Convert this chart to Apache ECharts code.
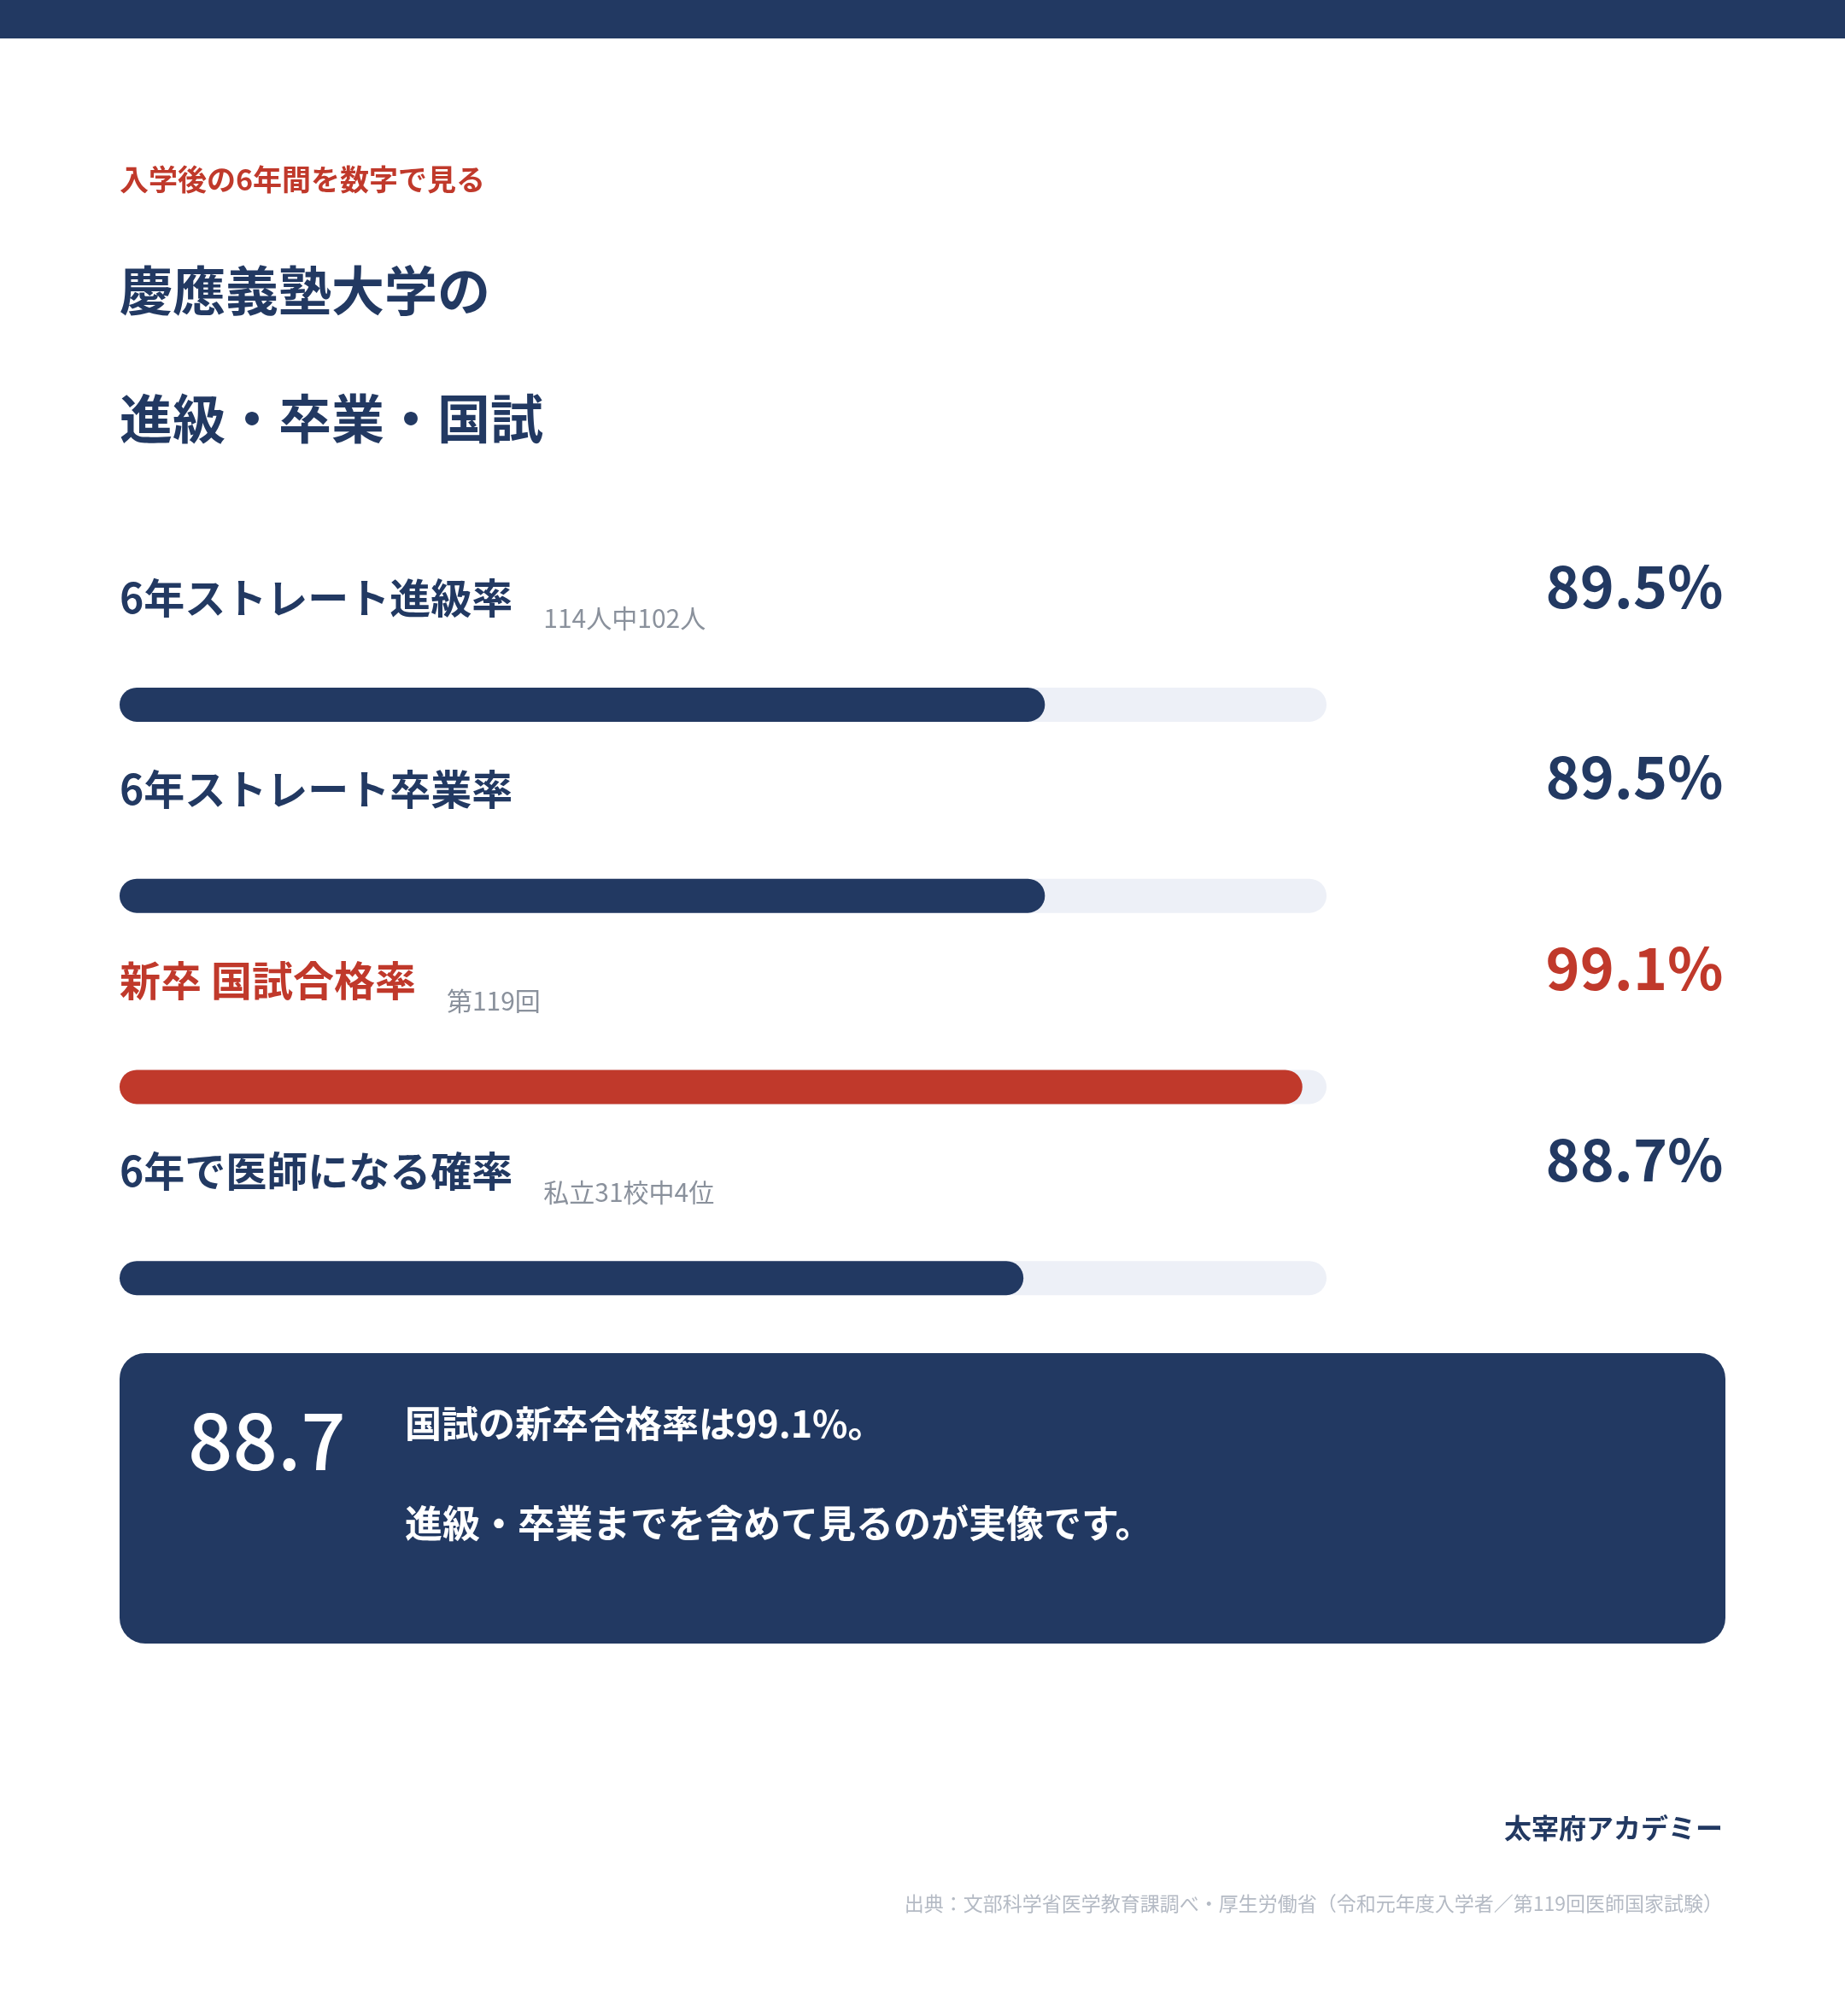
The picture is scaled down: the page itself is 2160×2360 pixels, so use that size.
<!DOCTYPE html>
<html>
<head>
<meta charset="utf-8">
<title>慶應義塾大学の進級・卒業・国試</title>
<script src="https://cdn.jsdelivr.net/npm/echarts@6.0.0/dist/echarts.min.js"></script>
<style>
  html, body { margin: 0; padding: 0; background: #ffffff; }
  #container1 { width: 2160px; height: 2360px; }
</style>
</head>
<body>
<div id="container1"></div>
<script>
// データ
var rowNames = ['6年ストレート進級率', '6年ストレート卒業率', '新卒 国試合格率', '6年で医師になる確率'];
var rowNotes = ['114人中102人', '', '第119回', '私立31校中4位'];
var rates = [89.5, 89.5, 99.1, 88.7];
var axisMin = 55;
var axisMax = 100;

var NAVY = '#223962';
var RED = '#c0392b';
var TRACK = '#edf0f7';
var FONT = '"Noto Sans CJK JP", "Noto Sans", sans-serif';
var accentIndex = 2; // 国試合格率だけ赤

var dom = document.getElementById("container1");
var myChart = echarts.init(dom);
var option = null;

function rowColor(i) {
    return i === accentIndex ? RED : NAVY;
}

option = {
    animation: false,
    backgroundColor: '#ffffff',
    textStyle: { fontFamily: FONT },
    grid: {
        left: 140,
        right: 607,
        top: 713,
        bottom: 752
    },
    xAxis: {
        type: 'value',
        min: axisMin,
        max: axisMax,
        show: false
    },
    yAxis: {
        type: 'category',
        data: rowNames,
        inverse: true,
        show: false
    },
    series: [
        {
            name: 'rate',
            type: 'bar',
            data: rates,
            barWidth: 40,
            showBackground: true,
            backgroundStyle: {
                color: TRACK,
                borderRadius: 20
            },
            itemStyle: {
                borderRadius: 20,
                color: function (p) {
                    return rowColor(p.dataIndex);
                }
            },
            label: {
                show: true,
                position: [0, -105],
                align: 'left',
                verticalAlign: 'middle',
                formatter: function (p) {
                    var i = p.dataIndex;
                    var key = i === accentIndex ? 'r' : 'n';
                    var s = '{' + key + '|' + rowNames[i] + '}';
                    if (rowNotes[i]) {
                        s += '{s|' + rowNotes[i] + '}';
                    }
                    return s;
                },
                rich: {
                    n: { fontFamily: FONT, fontSize: 48, fontWeight: 'bold', color: NAVY, lineHeight: 60 },
                    r: { fontFamily: FONT, fontSize: 48, fontWeight: 'bold', color: RED, lineHeight: 60 },
                    s: { fontFamily: FONT, fontSize: 30, color: '#8a919c', lineHeight: 36, padding: [48, 0, 0, 36] }
                }
            }
        },
        {
            // 右側のパーセント表示
            name: 'value',
            type: 'scatter',
            symbolSize: 1,
            itemStyle: { color: 'rgba(0,0,0,0)', opacity: 1 },
            data: rates.map(function (v, i) {
                return {
                    value: [axisMax, i],
                    label: { color: rowColor(i) }
                };
            }),
            label: {
                show: true,
                position: 'right',
                distance: 0,
                align: 'right',
                verticalAlign: 'middle',
                offset: [464, -139],
                fontFamily: FONT,
                fontSize: 68,
                fontWeight: 'bold',
                formatter: function (p) {
                    return rates[p.dataIndex].toFixed(1) + '%';
                }
            }
        }
    ],
    graphic: [
        {
            type: 'rect',
            shape: { x: 0, y: 0, width: 2160, height: 45 },
            style: { fill: NAVY }
        },
        {
            type: 'text', x: 140, y: 210,
            style: { text: '入学後の6年間を数字で見る', fill: RED, font: 'bold 34px ' + FONT, verticalAlign: 'middle' }
        },
        {
            type: 'text', x: 140, y: 340,
            style: { text: '慶應義塾大学の', fill: NAVY, font: 'bold 62px ' + FONT, verticalAlign: 'middle' }
        },
        {
            type: 'text', x: 140, y: 490,
            style: { text: '進級・卒業・国試', fill: NAVY, font: 'bold 62px ' + FONT, verticalAlign: 'middle' }
        },
        // 下のまとめボックス
        {
            type: 'rect',
            shape: { x: 140, y: 1584, width: 1880, height: 340, r: 30 },
            style: { fill: NAVY }
        },
        {
            type: 'text', x: 220, y: 1686,
            style: { text: rates[3].toFixed(1), fill: '#ffffff', font: '500 92px ' + FONT, verticalAlign: 'middle' }
        },
        {
            type: 'text', x: 474, y: 1667,
            style: { text: '国試の新卒合格率は' + rates[2].toFixed(1) + '%。', fill: '#ffffff', font: 'bold 43px ' + FONT, verticalAlign: 'middle' }
        },
        {
            type: 'text', x: 474, y: 1783,
            style: { text: '進級・卒業までを含めて見るのが実像です。', fill: '#ffffff', font: 'bold 44px ' + FONT, verticalAlign: 'middle' }
        },
        {
            type: 'text', x: 2017, y: 2140,
            style: { text: '太宰府アカデミー', fill: NAVY, font: 'bold 32px ' + FONT, align: 'right', verticalAlign: 'middle' }
        },
        {
            type: 'text', x: 2017, y: 2228,
            style: { text: '出典：文部科学省医学教育課調べ・厚生労働省（令和元年度入学者／第119回医師国家試験）', fill: '#b4bac4', font: '23px ' + FONT, align: 'right', verticalAlign: 'middle' }
        }
    ]
};

if (option && typeof option === "object") {
    myChart.setOption(option, true);
}
</script>
</body>
</html>
